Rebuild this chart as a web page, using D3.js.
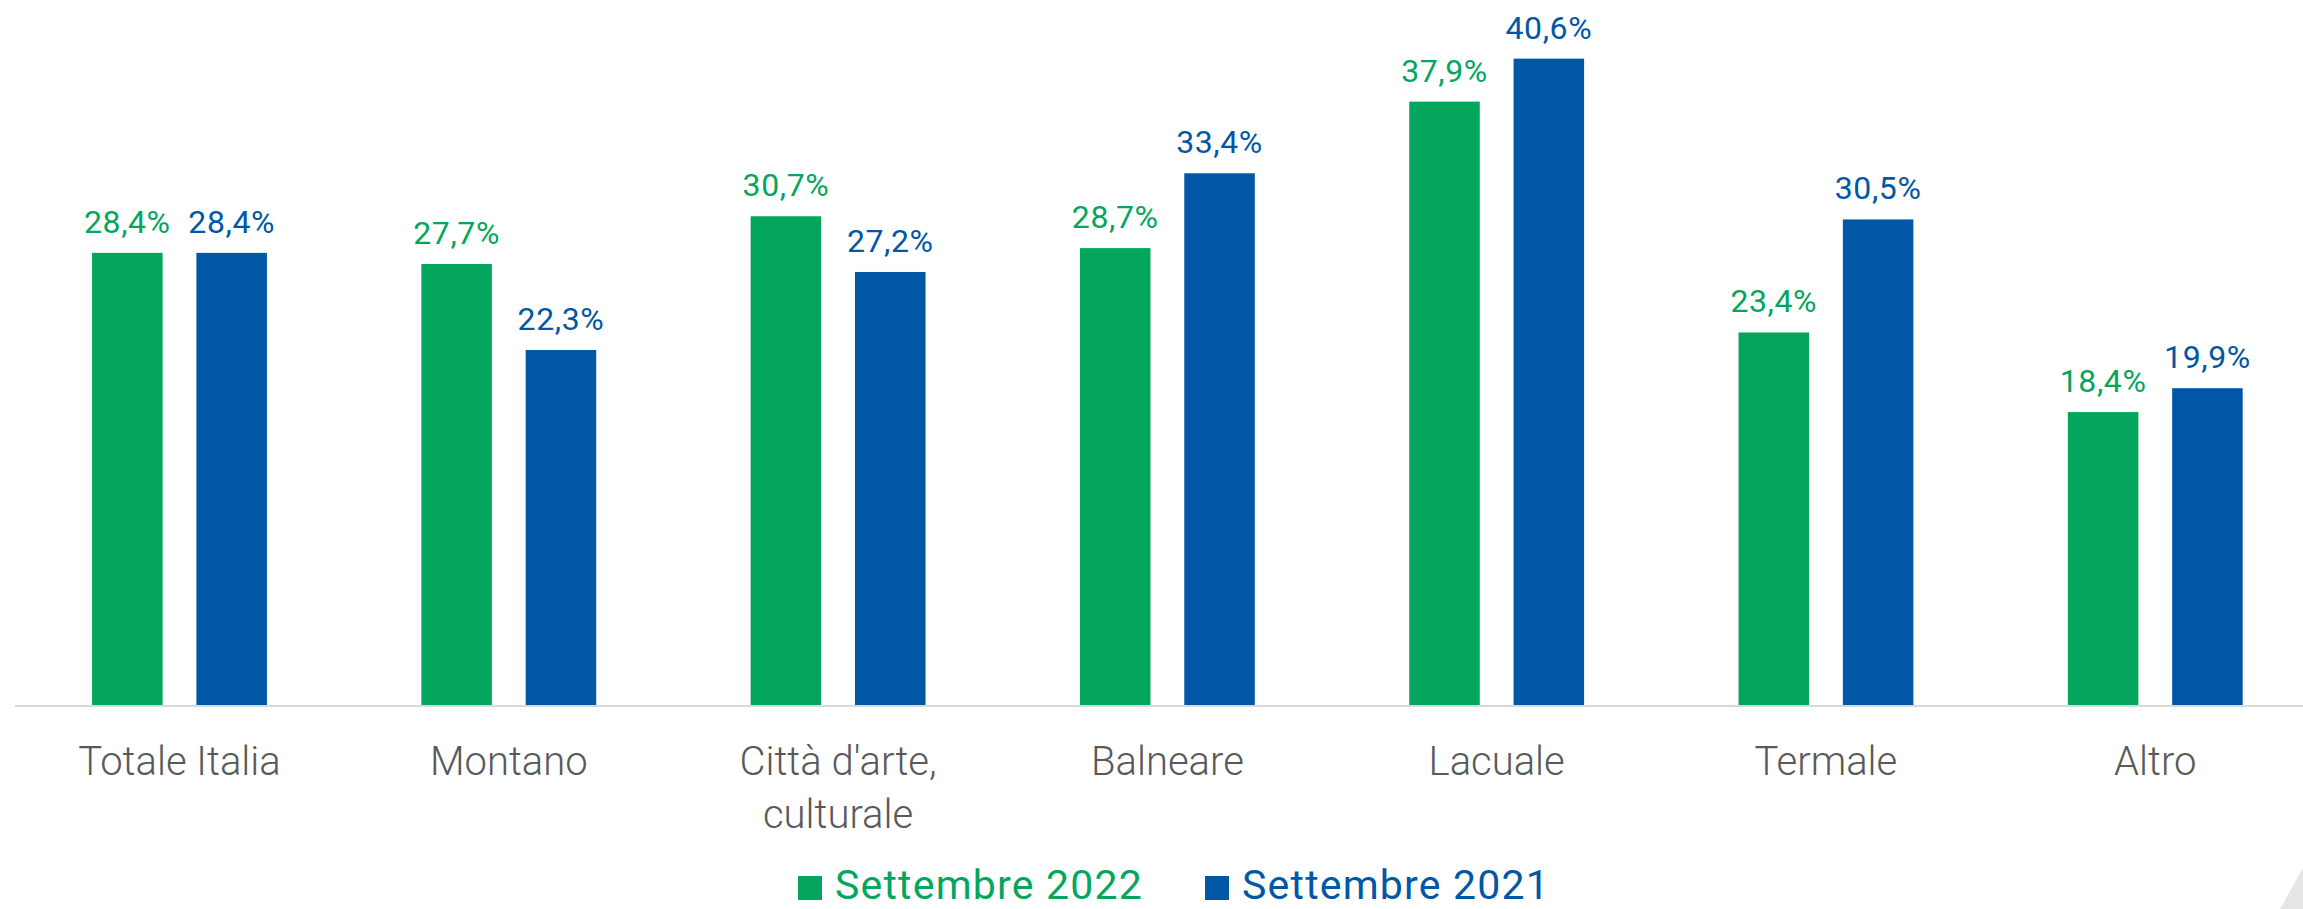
<!DOCTYPE html>
<html>
<head>
<meta charset="utf-8">
<script src="https://cdn.jsdelivr.net/npm/d3@7"></script>
<style>
  html, body { margin: 0; padding: 0; background: #ffffff; }
  svg { display: block; }
</style>
</head>
<body>
<svg id="chart" width="2303" height="909"></svg>
<script>
const categories = [["Totale Italia"], ["Montano"], ["Città d'arte,", "culturale"], ["Balneare"], ["Lacuale"], ["Termale"], ["Altro"]];
const seriesNames = ["Settembre 2022", "Settembre 2021"];
const values2022 = [28.4, 27.7, 30.7, 28.7, 37.9, 23.4, 18.4];
const values2021 = [28.4, 22.3, 27.2, 33.4, 40.6, 30.5, 19.9];
const colors = ["#03A65C", "#0057A5"];

const svg = d3.select("#chart");
const W = 2303, H = 909;
const baseY = 705;
const catKeys = categories.map(c => c.join(" "));

const x0 = d3.scaleBand().domain(catKeys).range([14.85, 2319.9]).padding(0);
const x1 = d3.scaleBand().domain(seriesNames).range([0, x0.bandwidth()])
  .paddingInner(0.324).paddingOuter(0.74);
const y = d3.scaleLinear().domain([0, 40.6]).range([baseY, baseY - 40.6 * 15.92]);

const fmt = v => d3.format(".1f")(v).replace(".", ",") + "%";

const data = catKeys.map((k, i) => ({ key: k, vals: [values2022[i], values2021[i]] }));

const groups = svg.append("g").selectAll("g").data(data).join("g")
  .attr("transform", d => `translate(${x0(d.key)},0)`);

groups.selectAll("rect").data(d => d.vals.map((v, j) => ({ s: seriesNames[j], v, j })))
  .join("rect")
  .attr("x", d => x1(d.s))
  .attr("y", d => y(d.v))
  .attr("width", x1.bandwidth())
  .attr("height", d => baseY - y(d.v))
  .attr("fill", d => colors[d.j]);

groups.selectAll("text.val").data(d => d.vals.map((v, j) => ({ s: seriesNames[j], v, j })))
  .join("text")
  .attr("class", "val")
  .attr("x", d => x1(d.s) + x1.bandwidth() / 2)
  .attr("y", d => y(d.v) - 20)
  .attr("text-anchor", "middle")
  .attr("font-family", "Roboto, sans-serif")
  .attr("font-size", 32)
  .attr("letter-spacing", 0.6)
  .attr("fill", d => colors[d.j])
  .text(d => fmt(d.v));

// axis line
svg.append("line")
  .attr("x1", 15).attr("x2", W)
  .attr("y1", baseY + 1).attr("y2", baseY + 1)
  .attr("stroke", "#d9d9d9").attr("stroke-width", 2);

// category labels
const labG = svg.append("g");
categories.forEach((lines, i) => {
  const t = labG.append("text")
    .attr("x", x0(catKeys[i]) + x0.bandwidth() / 2)
    .attr("y", 775)
    .attr("text-anchor", "middle")
    .attr("font-family", "Roboto, sans-serif")
    .attr("font-size", 40)
    .attr("font-weight", 300)
    .attr("fill", "#595959");
  lines.forEach((ln, k) => {
    t.append("tspan").attr("x", x0(catKeys[i]) + x0.bandwidth() / 2)
      .attr("dy", k === 0 ? 0 : 53).text(ln);
  });
});

// legend
const leg = svg.append("g");
let lx = 798;
seriesNames.forEach((name, j) => {
  leg.append("rect").attr("x", lx).attr("y", 876).attr("width", 24).attr("height", 24).attr("fill", colors[j]);
  const t = leg.append("text").attr("x", lx + 37).attr("y", 899)
    .attr("font-family", "Roboto, sans-serif").attr("font-size", 41)
    .attr("letter-spacing", 1.2)
    .attr("fill", colors[j]).text(name);
  const w = t.node().getComputedTextLength();
  lx = lx + 37 + w + 62;
});

// corner decoration
svg.append("path")
  .attr("d", `M2280,${H} L${W},868 L${W},${H} Z`)
  .attr("fill", "#e6e6e6");
</script>
</body>
</html>
